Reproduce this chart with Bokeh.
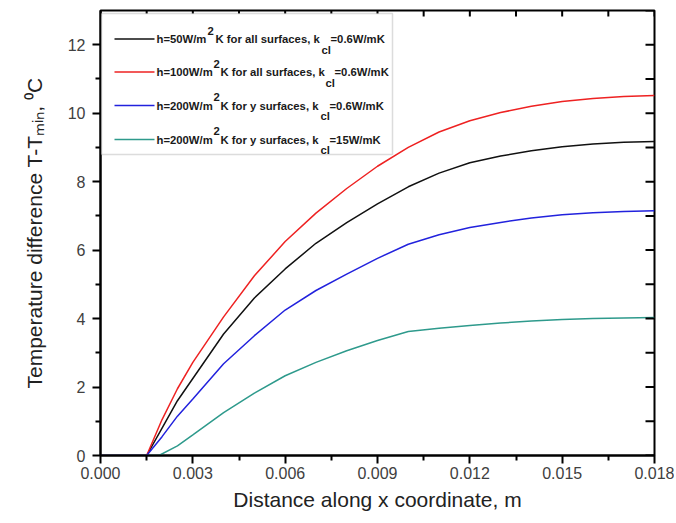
import math
from bokeh.plotting import figure
from bokeh.models import (FixedTicker, PrintfTickFormatter, Label,
                          BoxAnnotation, Arrow, Range1d)
from bokeh.embed import file_html
from bokeh.resources import INLINE

# ---------------- data ----------------
x_main = [0.0, 0.0015, 0.002, 0.0025, 0.003, 0.004, 0.005, 0.006, 0.007, 0.008,
          0.009, 0.010, 0.011, 0.012, 0.013, 0.014, 0.015, 0.016, 0.017, 0.018]
y_h50 = [0.0, 0.0, 0.80, 1.60, 2.25, 3.55, 4.60, 5.45, 6.20, 6.80,
         7.35, 7.85, 8.25, 8.55, 8.75, 8.90, 9.02, 9.10, 9.15, 9.17]
y_h100 = [0.0, 0.0, 1.05, 1.95, 2.72, 4.05, 5.25, 6.25, 7.08, 7.80,
          8.45, 9.00, 9.45, 9.78, 10.02, 10.20, 10.34, 10.43, 10.49, 10.52]
y_h200 = [0.0, 0.0, 0.55, 1.15, 1.65, 2.68, 3.50, 4.25, 4.82, 5.30,
          5.76, 6.17, 6.45, 6.66, 6.81, 6.94, 7.03, 7.09, 7.13, 7.15]
x_k15 = [0.0, 0.0019, 0.0025, 0.003, 0.004, 0.005, 0.006, 0.007, 0.008,
         0.009, 0.010, 0.011, 0.012, 0.013, 0.014, 0.015, 0.016, 0.017, 0.018]
y_k15 = [0.0, 0.0, 0.28, 0.60, 1.25, 1.82, 2.33, 2.72, 3.06,
         3.36, 3.62, 3.72, 3.80, 3.87, 3.93, 3.97, 4.00, 4.02, 4.03]

x_ticks = [0.0, 0.003, 0.006, 0.009, 0.012, 0.015, 0.018]
x_minor = [0.0015, 0.0045, 0.0075, 0.0105, 0.0135, 0.0165]
x_top_ticks = [0.0015 * i for i in range(13)]
y_ticks = [0, 2, 4, 6, 8, 10, 12]
y_minor = [1, 3, 5, 7, 9, 11]
y_right_ticks = list(range(0, 14))
X_MAX = 0.018
Y_MAX = 13

colors = ["#111111", "#ee2222", "#2222dd", "#2e9a8c"]

FONT = "Liberation Sans"

p = figure(frame_width=554, frame_height=445, output_backend="svg",
           toolbar_location=None, x_range=Range1d(0, X_MAX), y_range=Range1d(0, Y_MAX),
           min_border_left=100, min_border_right=20, min_border_top=10,
           min_border_bottom=56)
p.background_fill_color = "white"
p.border_fill_color = "white"
p.grid.visible = False
p.outline_line_color = "black"
p.outline_line_width = 2

p.line(x_main, y_h50, line_color=colors[0], line_width=1.5)
p.line(x_main, y_h100, line_color=colors[1], line_width=1.5)
p.line(x_main, y_h200, line_color=colors[2], line_width=1.5)
p.line(x_k15, y_k15, line_color=colors[3], line_width=1.5)

# inward ticks on the mirrored top and right frame edges (half clipped by frame)
p.scatter(x_top_ticks, [Y_MAX] * len(x_top_ticks), marker="dash", angle=math.pi / 2,
          size=12, line_color="black", line_width=2)
p.scatter([X_MAX] * len(y_right_ticks), y_right_ticks, marker="dash",
          size=18, line_color="black", line_width=2)

# bottom / left axes
xa = p.xaxis[0]
xa.ticker = FixedTicker(ticks=x_ticks, minor_ticks=x_minor)
xa.formatter = PrintfTickFormatter(format="%.3f")
xa.axis_label = "Distance along x coordinate, m"
ya = p.yaxis[0]
ya.ticker = FixedTicker(ticks=y_ticks, minor_ticks=y_minor)
ya.axis_label = "Temperature difference T-T\u2098\u1d62\u2099, \u2070C"
for ax in (xa, ya):
    ax.axis_line_width = 2
    ax.major_tick_line_width = 2
    ax.minor_tick_line_width = 2
    ax.major_tick_in = 0
    ax.major_tick_out = 8
    ax.minor_tick_in = 0
    ax.minor_tick_out = 5
    ax.major_label_text_font = FONT
    ax.major_label_text_font_size = "16px"
    ax.major_label_text_color = "#404040"
    ax.axis_label_text_font = FONT
    ax.axis_label_text_font_size = "21px"
    ax.axis_label_text_font_style = "normal"
    ax.axis_label_text_color = "#222222"
xa.major_label_standoff = 3
xa.axis_label_standoff = 6
ya.major_label_standoff = 7
ya.axis_label_standoff = 19

# custom legend
p.add_layout(BoxAnnotation(left=1, right=292, top=442, bottom=301,
                           left_units="screen", right_units="screen",
                           top_units="screen", bottom_units="screen",
                           fill_color="white", fill_alpha=1.0,
                           line_color="#8a8a8a", line_width=1.5))
rows_y = [416.5, 383.5, 350, 316]
main_texts = [("h=50W/m", "K for all surfaces, k", "=0.6W/mK"),
              ("h=100W/m", "K for all surfaces, k", "=0.6W/mK"),
              ("h=200W/m", "K for y surfaces, k", "=0.6W/mK"),
              ("h=200W/m", "K for y surfaces, k", "=15W/mK")]
xs_pieces = [(56, 107, 115, 221, 230),
             (56, 113, 120, 225, 234),
             (56, 113, 120, 220, 229),
             (56, 113, 120, 220, 229)]
lt = dict(x_units="screen", y_units="screen", text_font=FONT,
          text_font_size="11.3px", text_font_style="bold", text_color="#1a1a1a",
          text_baseline="middle", text_align="left")
for i, (ry, (t1, t2, t3), xp) in enumerate(zip(rows_y, main_texts, xs_pieces)):
    p.add_layout(Arrow(end=None, x_start=14, y_start=ry, x_end=54, y_end=ry,
                       start_units="screen", end_units="screen",
                       line_color=colors[i], line_width=1.5))
    p.add_layout(Label(x=xp[0], y=ry, text=t1, **lt))
    p.add_layout(Label(x=xp[1], y=ry + 8.5, text="2", **lt))
    p.add_layout(Label(x=xp[2], y=ry, text=t2, **lt))
    p.add_layout(Label(x=xp[3], y=ry - 10.5, text="cl", **lt))
    p.add_layout(Label(x=xp[4], y=ry, text=t3, **lt))

open("out.html", "w").write(file_html(p, INLINE))
